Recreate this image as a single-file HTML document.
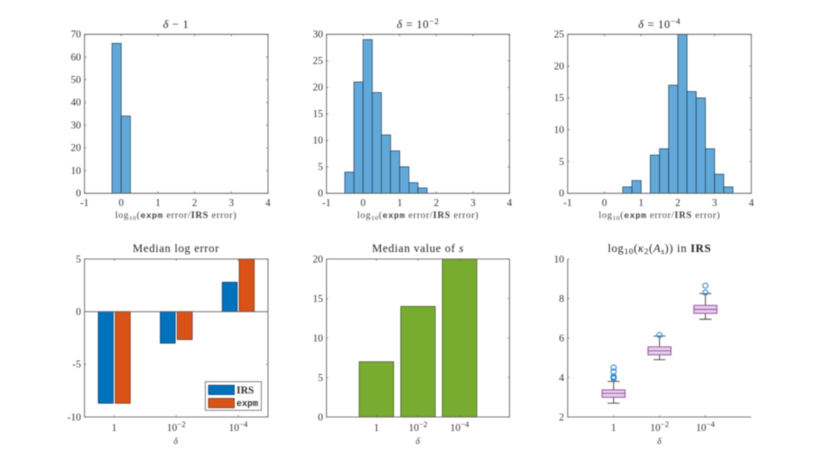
<!DOCTYPE html>
<html>
<head>
<meta charset="utf-8">
<title>Histogram, bar and box chart grid</title>
<style>
html,body{margin:0;padding:0;background:#fff;width:830px;height:469px;overflow:hidden}
svg{display:block;filter:blur(0.4px)}
text{font-family:"Liberation Serif",serif;fill:#303030}
.t{font-size:11.5px;letter-spacing:0.55px;text-anchor:middle;fill:#222}
.l{font-size:9.5px;letter-spacing:0.6px;text-anchor:middle;fill:#444}
.k{font-size:10.3px;fill:#333}
.m{font-family:"Liberation Mono",monospace;font-weight:bold}
</style>
</head>
<body>
<svg id="fig" xmlns="http://www.w3.org/2000/svg" width="830" height="469" viewBox="0 0 830 469">
  <rect x="0" y="0" width="830" height="469" fill="#fff"/>

  <text class="t" x="176" y="28"><tspan font-style="italic">δ</tspan> − 1</text>
  <text class="t" x="418" y="28"><tspan font-style="italic">δ</tspan> = 10<tspan dy="-4" font-size="8.5">−2</tspan></text>
  <text class="t" x="659.5" y="28"><tspan font-style="italic">δ</tspan> = 10<tspan dy="-4" font-size="8.5">−4</tspan></text>

  <text class="l" x="176" y="218">log<tspan dy="2" font-size="6.5">10</tspan><tspan dy="-2">(</tspan><tspan class="m" font-size="8.5">expm</tspan> error/<tspan font-weight="bold">IRS</tspan> error)</text>
  <text class="l" x="418" y="218">log<tspan dy="2" font-size="6.5">10</tspan><tspan dy="-2">(</tspan><tspan class="m" font-size="8.5">expm</tspan> error/<tspan font-weight="bold">IRS</tspan> error)</text>
  <text class="l" x="659.5" y="218">log<tspan dy="2" font-size="6.5">10</tspan><tspan dy="-2">(</tspan><tspan class="m" font-size="8.5">expm</tspan> error/<tspan font-weight="bold">IRS</tspan> error)</text>

  <text class="t" x="176" y="252">Median log error</text>
  <text class="t" x="418" y="252">Median value of <tspan font-style="italic">s</tspan></text>
  <text class="t" x="659.5" y="252">log<tspan dy="2" font-size="8.5">10</tspan><tspan dy="-2">(</tspan><tspan font-style="italic">κ</tspan><tspan dy="2" font-size="8.5">2</tspan><tspan dy="-2">(</tspan><tspan font-style="italic">A</tspan><tspan dy="2" font-size="8.5" font-style="italic">s</tspan><tspan dy="-2">)) in </tspan><tspan font-weight="bold">IRS</tspan></text>

  <text class="l" font-style="italic" font-size="10" x="176" y="444">δ</text>
  <text class="l" font-style="italic" font-size="10" x="418" y="444">δ</text>
  <text class="l" font-style="italic" font-size="10" x="659.5" y="444">δ</text>
</svg>
<script>
// ---- data ----
var histTicksX = [-1, 0, 1, 2, 3, 4];
var hist1Edges = [-0.25, 0, 0.25];
var hist1Counts = [66, 34];
var hist1TicksY = [0, 10, 20, 30, 40, 50, 60, 70];
var hist2Edges = [-0.5, -0.25, 0, 0.25, 0.5, 0.75, 1, 1.25, 1.5, 1.75];
var hist2Counts = [4, 21, 29, 19, 11, 8, 5, 2, 1];
var hist2TicksY = [0, 5, 10, 15, 20, 25, 30];
var hist3Edges = [0.5, 0.75, 1, 1.25, 1.5, 1.75, 2, 2.25, 2.5, 2.75, 3, 3.25, 3.5];
var hist3Counts = [1, 2, 0, 6, 7, 17, 25, 16, 15, 7, 3, 1];
var hist3TicksY = [0, 5, 10, 15, 20, 25];
var deltaCategories = ['1', '10|−2', '10|−4'];
var irsMedianError = [-8.7, -3, 2.8];
var expmMedianError = [-8.7, -2.65, 5];
var errorTicksY = [-10, -5, 0, 5];
var medianS = [7, 14, 20];
var sTicksY = [0, 5, 10, 15, 20];
var boxLowWhisker = [2.7, 4.9, 6.95];
var boxQ1 = [3.0, 5.15, 7.25];
var boxMedian = [3.2, 5.35, 7.45];
var boxQ3 = [3.37, 5.55, 7.65];
var boxHighWhisker = [3.8, 6.1, 8.25];
var boxOutliers = [[3.95, 4.0, 4.05, 4.3, 4.5], [6.15], [8.3, 8.65]];
var boxTicksY = [2, 4, 6, 8, 10];

// ---- drawing ----
var NS = 'http://www.w3.org/2000/svg';
var fig = document.getElementById('fig');
var AXC = '#555';

function mk(tag, attrs, parent) {
  var el = document.createElementNS(NS, tag);
  for (var k in attrs) el.setAttribute(k, attrs[k]);
  (parent || fig).appendChild(el);
  return el;
}

function linear(d0, d1, r0, r1) {
  return function (v) { return r0 + (v - d0) * (r1 - r0) / (d1 - d0); };
}

function catLabel(parent, s, x, y) {
  var parts = s.split('|');
  var t = mk('text', { x: x, y: y, 'text-anchor': 'middle', 'class': 'k' }, parent);
  
  
  t.appendChild(document.createTextNode(parts[0]));
  if (parts[1]) {
    var sup = mk('tspan', { dy: -4, 'font-size': 8 }, t);
    sup.textContent = parts[1];
  }
}

function axes(name, box, xlim, ylim, xticks, yticks, isCat, hasBox) {
  var g = mk('g', {});
  
  
  var sx = linear(xlim[0], xlim[1], box.x0, box.x1);
  var sy = linear(ylim[0], ylim[1], box.y1, box.y0);
  var clipId = name + '-clip';
  var cp = mk('clipPath', { id: clipId }, g);
  mk('rect', { x: box.x0, y: box.y0, width: box.x1 - box.x0, height: box.y1 - box.y0 }, cp);
  var marks = mk('g', { 'clip-path': 'url(#' + clipId + ')' }, g);
  
  
  var over = mk('g', {}, g);
  var d = 'M' + box.x0 + ' ' + box.y0 + 'V' + box.y1 + 'H' + box.x1;
  if (hasBox) d += 'V' + box.y0 + 'H' + box.x0;
  var frame = mk('path', { d: d, fill: 'none', stroke: AXC, 'stroke-width': 0.8 }, over);
  
  
  var tk = 1.9;
  var tickD = '';
  xticks.forEach(function (v, i) {
    var x = isCat ? sx(i + 1) : sx(v);
    tickD += 'M' + x + ' ' + box.y1 + 'v' + (-tk);
    if (hasBox) tickD += 'M' + x + ' ' + box.y0 + 'v' + tk;
    if (isCat) {
      catLabel(over, v, x, box.y1 + 14);
    } else {
      var t = mk('text', { x: x, y: box.y1 + 12.5, 'text-anchor': 'middle', 'class': 'k' }, over);
      
      
      t.textContent = v;
    }
  });
  yticks.forEach(function (v) {
    var y = sy(v);
    tickD += 'M' + box.x0 + ' ' + y + 'h' + tk;
    if (hasBox) tickD += 'M' + box.x1 + ' ' + y + 'h' + (-tk);
    var t = mk('text', { x: box.x0 - 3.5, y: y + 3.3, 'text-anchor': 'end', 'class': 'k' }, over);
    
    
    t.textContent = v;
  });
  var ticks = mk('path', { d: tickD, stroke: AXC, 'stroke-width': 0.6, fill: 'none' }, over);
  
  
  return { sx: sx, sy: sy, marks: marks, g: g };
}

function hist(name, box, edges, counts, ylim, yticks) {
  var a = axes(name, box, [-1, 4], ylim, histTicksX, yticks, false, true);
  counts.forEach(function (c, i) {
    if (!c) return;
    var x0 = a.sx(edges[i]), x1 = a.sx(edges[i + 1]), y = a.sy(c);
    var r = mk('rect', { x: x0, y: y, width: x1 - x0, height: a.sy(0) - y, fill: '#62a9da', stroke: '#1f3f5c', 'stroke-width': 0.7 }, a.marks);
    
    
  });
}

var top0 = 34.3, top1 = 193.3, bot0 = 259, bot1 = 417;
var colA = { x0: 84.5, x1: 268 }, colB = { x0: 326.5, x1: 509.5 }, colC = { x0: 567.7, x1: 751.3 };

hist('histogram-delta-1', { x0: colA.x0, x1: colA.x1, y0: top0, y1: top1 }, hist1Edges, hist1Counts, [0, 70], hist1TicksY);
hist('histogram-delta-1e-2', { x0: colB.x0, x1: colB.x1, y0: top0, y1: top1 }, hist2Edges, hist2Counts, [0, 30], hist2TicksY);
hist('histogram-delta-1e-4', { x0: colC.x0, x1: colC.x1, y0: top0, y1: top1 }, hist3Edges, hist3Counts, [0, 25], hist3TicksY);

// grouped bar chart
(function () {
  var a = axes('median-log-error-chart', { x0: colA.x0, x1: colA.x1, y0: bot0, y1: bot1 }, [0.52, 3.48], [-10, 5], deltaCategories, errorTicksY, true, true);
  var w = 0.243, off = 0.137;
  function bars(vals, shift, fill, edge, nm) {
    vals.forEach(function (v, i) {
      var x0 = a.sx(i + 1 + shift - w / 2), x1 = a.sx(i + 1 + shift + w / 2);
      var y0 = a.sy(Math.max(v, 0)), y1 = a.sy(Math.min(v, 0));
      var r = mk('rect', { x: x0, y: y0, width: x1 - x0, height: y1 - y0, fill: fill, stroke: edge, 'stroke-width': 0.6 }, a.marks);
      
      
    });
  }
  bars(irsMedianError, -off, '#0072BD', '#0b2f4d', 'bar-irs');
  bars(expmMedianError, off, '#D95319', '#5a2008', 'bar-expm');
  var base = mk('line', { x1: colA.x0, x2: colA.x1, y1: a.sy(0), y2: a.sy(0), stroke: '#666', 'stroke-width': 0.8 }, a.g);
  
  

  var lg = mk('g', {}, a.g);
  
  
  mk('rect', { x: 205.3, y: 381.7, width: 56, height: 28.6, fill: '#fff', stroke: '#555', 'stroke-width': 0.7 }, lg);
  var s1 = mk('rect', { x: 208.5, y: 385.2, width: 25.8, height: 9.4, fill: '#0072BD', stroke: '#0b2f4d', 'stroke-width': 0.6 }, lg);
  
  
  var s2 = mk('rect', { x: 208.5, y: 398.4, width: 25.8, height: 9.4, fill: '#D95319', stroke: '#5a2008', 'stroke-width': 0.6 }, lg);
  
  
  var t1 = mk('text', { x: 236.5, y: 393.6, 'font-size': 10.5, 'font-weight': 'bold' }, lg);
  
  
  t1.textContent = 'IRS';
  var t2 = mk('text', { x: 236.5, y: 406.2, 'font-size': 9, 'class': 'm' }, lg);
  
  
  t2.textContent = 'expm';
})();

// median s bar chart
(function () {
  var a = axes('median-s-chart', { x0: colB.x0, x1: colB.x1, y0: bot0, y1: bot1 }, [-0.2, 4.2], [0, 20], deltaCategories, sTicksY, true, true);
  var w = 0.83;
  medianS.forEach(function (v, i) {
    var x0 = a.sx(i + 1 - w / 2), x1 = a.sx(i + 1 + w / 2), y = a.sy(v);
    var r = mk('rect', { x: x0, y: y, width: x1 - x0, height: a.sy(0) - y, fill: '#77AC30', stroke: '#34491a', 'stroke-width': 0.6 }, a.marks);
    
    
  });
})();

// box plot
(function () {
  var a = axes('condition-number-boxplot', { x0: colC.x0, x1: colC.x1, y0: bot0, y1: bot1 }, [0, 4], [2, 10], deltaCategories, boxTicksY, true, false);
  var w = 0.5, cap = 0.13;
  boxMedian.forEach(function (m, i) {
    var c = i + 1;
    var g = mk('g', {}, a.marks);
    
    
    var whisk = 'M' + a.sx(c) + ' ' + a.sy(boxQ1[i]) + 'V' + a.sy(boxLowWhisker[i]) +
      'M' + a.sx(c) + ' ' + a.sy(boxQ3[i]) + 'V' + a.sy(boxHighWhisker[i]) +
      'M' + a.sx(c - cap) + ' ' + a.sy(boxLowWhisker[i]) + 'H' + a.sx(c + cap) +
      'M' + a.sx(c - cap) + ' ' + a.sy(boxHighWhisker[i]) + 'H' + a.sx(c + cap);
    var wp = mk('path', { d: whisk, stroke: '#444', 'stroke-width': 0.9, fill: 'none' }, g);
    
    
    var yq3 = a.sy(boxQ3[i]), yq1 = a.sy(boxQ1[i]);
    var r = mk('rect', { x: a.sx(c - w / 2), y: yq3, width: a.sx(c + w / 2) - a.sx(c - w / 2), height: yq1 - yq3, fill: '#e6d3ea', stroke: '#a05fad', 'stroke-width': 1.1 }, g);
    
    
    var ml = mk('line', { x1: a.sx(c - w / 2), x2: a.sx(c + w / 2), y1: a.sy(m), y2: a.sy(m), stroke: '#8f4b9c', 'stroke-width': 0.9 }, g);
    
    
    boxOutliers[i].forEach(function (v) {
      var o = mk('circle', { cx: a.sx(c), cy: a.sy(v), r: 2.6, fill: 'none', stroke: '#2a8bd0', 'stroke-width': 1 }, g);
      
      
    });
  });
})();
</script>
</body>
</html>
